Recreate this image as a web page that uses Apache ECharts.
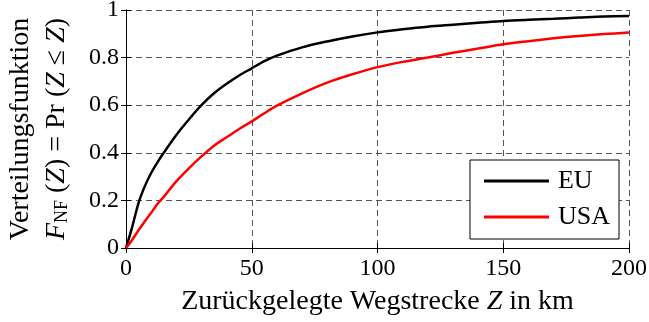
<!DOCTYPE html>
<html>
<head>
<meta charset="utf-8">
<script src="https://cdn.jsdelivr.net/npm/echarts@6/dist/echarts.min.js"></script>
<style>html,body{margin:0;padding:0;background:#fff;}#c{width:649px;height:322px;}</style>
</head>
<body>
<div id="c"></div>
<script>
// distances in km (shared x values)
var distances = [0, 2.5, 5, 7.5, 10, 12.5, 15, 20, 25, 30, 35, 40, 45, 50, 55, 60, 70, 80, 90, 100, 110, 120, 130, 140, 150, 160, 170, 180, 190, 200];
var euValues = [0, 0.09, 0.19, 0.26, 0.315, 0.36, 0.4, 0.475, 0.54, 0.6, 0.65, 0.69, 0.725, 0.755, 0.785, 0.808, 0.843, 0.868, 0.889, 0.906, 0.919, 0.93, 0.938, 0.946, 0.954, 0.959, 0.963, 0.968, 0.973, 0.975];
var usaValues = [0, 0.035, 0.075, 0.112, 0.148, 0.185, 0.215, 0.28, 0.335, 0.385, 0.43, 0.465, 0.5, 0.532, 0.566, 0.598, 0.65, 0.695, 0.73, 0.76, 0.782, 0.8, 0.82, 0.838, 0.856, 0.869, 0.881, 0.891, 0.899, 0.905];
var seriesNames = ['EU', 'USA'];
var xTicks = [0, 50, 100, 150, 200];
var yTicks = [0, 0.2, 0.4, 0.6, 0.8, 1];

function pairs(xs, ys) { return xs.map(function (x, i) { return [x, ys[i]]; }); }

var FONT = 'Liberation Serif';
var chart = echarts.init(document.getElementById('c'));
var gridLine = { show: true, lineStyle: { color: '#555', type: [6, 4], width: 1 } };
var axisLineStyle = { show: true, lineStyle: { color: '#000', width: 1 } };
var tickIn = { show: true, inside: true, length: 5, lineStyle: { color: '#000' } };

chart.setOption({
  animation: false,
  backgroundColor: '#fff',
  grid: { left: 126, right: 20, top: 10, bottom: 74, containLabel: false, outerBoundsMode: 'none' },
  legend: {
    orient: 'vertical',
    right: 30, bottom: 83,
    data: seriesNames,
    icon: 'rect',
    itemWidth: 65, itemHeight: 3,
    itemGap: 10,
    padding: [8, 9, 9, 14],
    backgroundColor: '#fff',
    borderColor: '#000', borderWidth: 1, borderRadius: 0,
    textStyle: { fontFamily: FONT, fontSize: 26, color: '#000', padding: [0, 0, 0, 4] }
  },
  xAxis: [{
    type: 'value', min: 0, max: 200, interval: 50,
    axisLine: axisLineStyle, axisTick: tickIn, splitLine: gridLine,
    axisLabel: { fontFamily: FONT, fontSize: 24, color: '#000', margin: 9 },
    name: 'Zurückgelegte Wegstrecke {i|Z} in km',
    nameLocation: 'middle', nameGap: 40,
    nameTextStyle: { fontFamily: FONT, fontSize: 28, color: '#000',
      rich: { i: { fontFamily: FONT, fontSize: 28, fontStyle: 'italic', color: '#000' } } }
  }, {
    type: 'value', min: 0, max: 200, interval: 50, position: 'top',
    axisLine: axisLineStyle, axisTick: tickIn, splitLine: { show: false }, axisLabel: { show: false }
  }],
  yAxis: [{
    type: 'value', min: 0, max: 1, interval: 0.2,
    axisLine: axisLineStyle, axisTick: tickIn, splitLine: gridLine,
    axisLabel: { fontFamily: FONT, fontSize: 24, color: '#000', margin: 7,
      formatter: function (v) { return String(Math.round(v * 10) / 10); } },
    name: '{t|Verteilungsfunktion}\n{i|F}{s|NF}{t| (}{i|Z}{t|) = Pr (}{i|Z}{t| ≤ }{i|Z}{t|)}',
    nameLocation: 'middle', nameGap: 51, nameRotate: 90,
    nameTextStyle: { fontFamily: FONT, fontSize: 28, color: '#000', lineHeight: 36, align: 'center',
      rich: {
        t: { fontFamily: FONT, fontSize: 28, color: '#000', lineHeight: 36 },
        i: { fontFamily: FONT, fontSize: 28, fontStyle: 'italic', color: '#000', lineHeight: 36 },
        s: { fontFamily: FONT, fontSize: 18, color: '#000', lineHeight: 36, padding: [10, 0, 0, 0] }
      } }
  }, {
    type: 'value', min: 0, max: 1, interval: 0.2, position: 'right',
    axisLine: axisLineStyle, axisTick: tickIn, splitLine: { show: false }, axisLabel: { show: false }
  }],
  series: [{
    name: seriesNames[0], type: 'line', xAxisIndex: 0, yAxisIndex: 0,
    data: pairs(distances, euValues), showSymbol: false, smooth: 0.3,
    lineStyle: { color: '#000', width: 2.5 }, itemStyle: { color: '#000' }
  }, {
    name: seriesNames[1], type: 'line', xAxisIndex: 0, yAxisIndex: 0,
    data: pairs(distances, usaValues), showSymbol: false, smooth: 0.3,
    lineStyle: { color: '#ff0000', width: 2.5 }, itemStyle: { color: '#ff0000' }
  }]
});
</script>
</body>
</html>
